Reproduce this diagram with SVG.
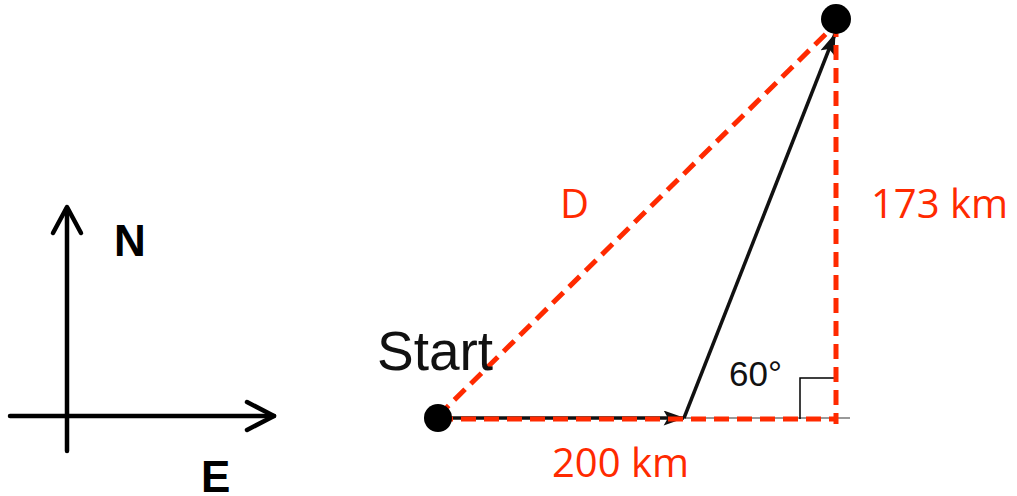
<svg xmlns="http://www.w3.org/2000/svg" width="1017" height="496" viewBox="0 0 1017 496">
<defs>
<marker id="ah" viewBox="0 0 20 14" refX="19" refY="7" markerWidth="22" markerHeight="15" markerUnits="userSpaceOnUse" orient="auto">
<path d="M0,0 L20,7 L0,14 L4,7 Z" fill="#111"/>
</marker>
<style>
.ax{stroke:#000;stroke-width:4.5;fill:none;stroke-linecap:round;stroke-linejoin:round}
.red{stroke:#ff2a00;stroke-width:5;fill:none;stroke-dasharray:15 8}
.lbl{font-family:"Open Sans","Liberation Sans",sans-serif;fill:#ff2a00;font-size:40px}
.cmp{font-family:"Liberation Sans",Arial,sans-serif;font-weight:bold;font-size:44px;fill:#000}
.hv{font-family:"Liberation Sans",Arial,sans-serif;fill:#111}
</style>
</defs>
<rect width="1017" height="496" fill="#fff"/>
<g id="compass">
<line class="ax" x1="67" y1="208" x2="67" y2="451"/>
<polyline class="ax" points="53,233 67,207 81,233"/>
<line class="ax" x1="10" y1="416" x2="274" y2="416"/>
<polyline class="ax" points="247,402 274,416 247,430"/>
<text class="cmp" x="114" y="256">N</text>
<text class="cmp" x="201" y="492">E</text>
</g>
<g id="base-line">
<line x1="440" y1="418" x2="850" y2="418" stroke="#999" stroke-width="2"/>
</g>
<g id="right-angle">
<polyline points="800,419 800,378 837,378" fill="none" stroke="#000" stroke-width="1.5"/>
</g>
<g id="connectors">
<line x1="440" y1="418" x2="684" y2="418" stroke="#111" stroke-width="3.5" marker-end="url(#ah)"/>
<line x1="684" y1="418" x2="835" y2="34" stroke="#111" stroke-width="3.5" marker-end="url(#ah)"/>
<line class="red" x1="438" y1="419" x2="836" y2="419"/>
<line class="red" x1="836" y1="22" x2="836" y2="424"/>
<line class="red" x1="438" y1="416" x2="836" y2="24"/>
</g>
<g id="start">
<circle cx="438" cy="418" r="14" fill="#000"/>
<text class="hv" x="377" y="370" font-size="55">Start</text>
</g>
<g id="end">
<circle cx="836" cy="19" r="15" fill="#000"/>
</g>
<g id="labels">
<text class="hv" x="729" y="386" font-size="35">60°</text>
<text class="lbl" x="560" y="218">D</text>
<text class="lbl" x="871" y="218">173 km</text>
<text class="lbl" x="552" y="477">200 km</text>
</g>
</svg>
